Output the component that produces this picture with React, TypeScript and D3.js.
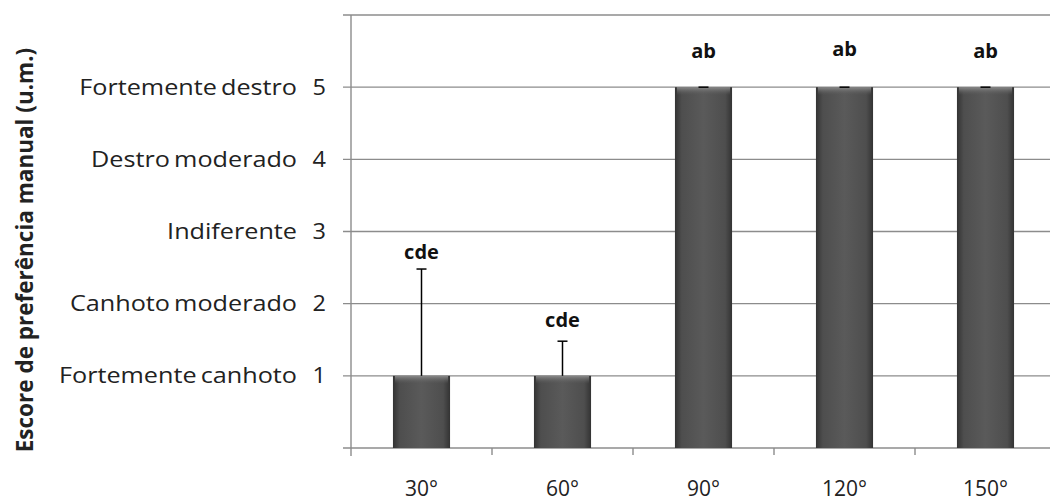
import React from "react";
import * as d3 from "d3";

const categories = ["30°", "60°", "90°", "120°", "150°"];
const values = [1, 1, 5, 5, 5];
const errors = [1.48, 0.48, 0, 0, 0];
const letters = ["cde", "cde", "ab", "ab", "ab"];
const letterPos = [2.62, 1.68, 5.4, 5.43, 5.4];
const yTicks = [0, 1, 2, 3, 4, 5, 6];
const yTickNames: Record<number, string> = {
  1: "Fortemente canhoto",
  2: "Canhoto moderado",
  3: "Indiferente",
  4: "Destro moderado",
  5: "Fortemente destro",
};
const yTitle = "Escore de preferência manual (u.m.)";

const W = 1050;
const H = 504;
const left = 351;
const right = 1056;
const top = 15;
const bottom = 448;

export default function App() {
  const x = d3.scaleBand<string>().domain(categories).range([left, right]).paddingInner(0.595).paddingOuter(0.2975);
  const y = d3.scaleLinear().domain([0, 6]).range([bottom, top]);
  const band = x.step();
  const font = "'Open Sans', 'Noto Sans', sans-serif";
  return (
    <svg width={W} height={H} style={{ position: "absolute", left: 0, top: 0, background: "#fff" }}>
      <defs>
        <linearGradient id="barGrad" x1="0" x2="1" y1="0" y2="0">
          <stop offset="0" stopColor="#333" />
          <stop offset="0.12" stopColor="#4e4e4e" />
          <stop offset="0.5" stopColor="#5a5a5a" />
          <stop offset="0.88" stopColor="#4e4e4e" />
          <stop offset="1" stopColor="#333" />
        </linearGradient>
        <linearGradient id="topGrad" x1="0" x2="0" y1="0" y2="1">
          <stop offset="0" stopColor="#8a8a8a" />
          <stop offset="1" stopColor="#5a5a5a" stopOpacity="0" />
        </linearGradient>
      </defs>
      {/* gridlines */}
      {yTicks.map((t) => (
        <line key={"g" + t} x1={left - 8} x2={W} y1={y(t)} y2={y(t)} stroke="#8c8c8c" strokeWidth={1.4} />
      ))}
      {/* y axis */}
      <line x1={left} x2={left} y1={top} y2={bottom + 8} stroke="#8c8c8c" strokeWidth={1.4} />
      {/* x ticks */}
      {categories.map((c, i) => (
        <line key={"xt" + i} x1={left + band * (i + 1)} x2={left + band * (i + 1)} y1={bottom} y2={bottom + 7} stroke="#8c8c8c" strokeWidth={1.4} />
      ))}
      {/* bars */}
      {categories.map((c, i) => {
        const bx = x(c)!;
        const bw = x.bandwidth();
        const y0 = y(values[i]);
        return (
          <g key={"b" + i}>
            <rect x={bx} y={y0} width={bw} height={bottom - y0} fill="url(#barGrad)" />
            <rect x={bx + 2} y={y0} width={bw - 4} height={8} fill="url(#topGrad)" />
          </g>
        );
      })}
      {/* error bars */}
      {categories.map((c, i) => {
        const cx = x(c)! + x.bandwidth() / 2;
        const y0 = y(values[i]);
        const y1 = y(values[i] + errors[i]);
        return (
          <g key={"e" + i} stroke="#000" strokeWidth={1.5}>
            <line x1={cx} x2={cx} y1={y0} y2={y1} />
            <line x1={cx - 5} x2={cx + 5} y1={y1} y2={y1} />
          </g>
        );
      })}
      {/* letters */}
      {categories.map((c, i) => {
        const cx = x(c)! + x.bandwidth() / 2;
        return (
          <text key={"l" + i} x={cx} y={y(letterPos[i])} textAnchor="middle" fontFamily={font} fontWeight="bold" fontSize={20} fill="#111">
            {letters[i]}
          </text>
        );
      })}
      {/* y tick labels */}
      {yTicks.filter((t) => t >= 1 && t <= 5).map((t) => (
        <g key={"yl" + t} fontFamily={font} fontSize={21} fill="#222">
          <text transform={`translate(326, ${y(t)}) scale(1.12, 1)`} dy="0.36em" textAnchor="end">{String(t)}</text>
          <text transform={`translate(297, ${y(t)}) scale(1.2, 1)`} dy="0.36em" textAnchor="end" wordSpacing={-2}>{yTickNames[t]}</text>
        </g>
      ))}
      {/* x labels */}
      {categories.map((c, i) => (
        <text key={"xl" + i} x={x(c)! + x.bandwidth() / 2} y={496} textAnchor="middle" fontFamily={font} fontSize={21} fill="#222">
          {c}
        </text>
      ))}
      {/* y title */}
      <text transform={`translate(33, 250) rotate(-90)`} textAnchor="middle" fontFamily={font} fontWeight="bold" fontSize={22.5} fill="#222">
        {yTitle}
      </text>
    </svg>
  );
}
